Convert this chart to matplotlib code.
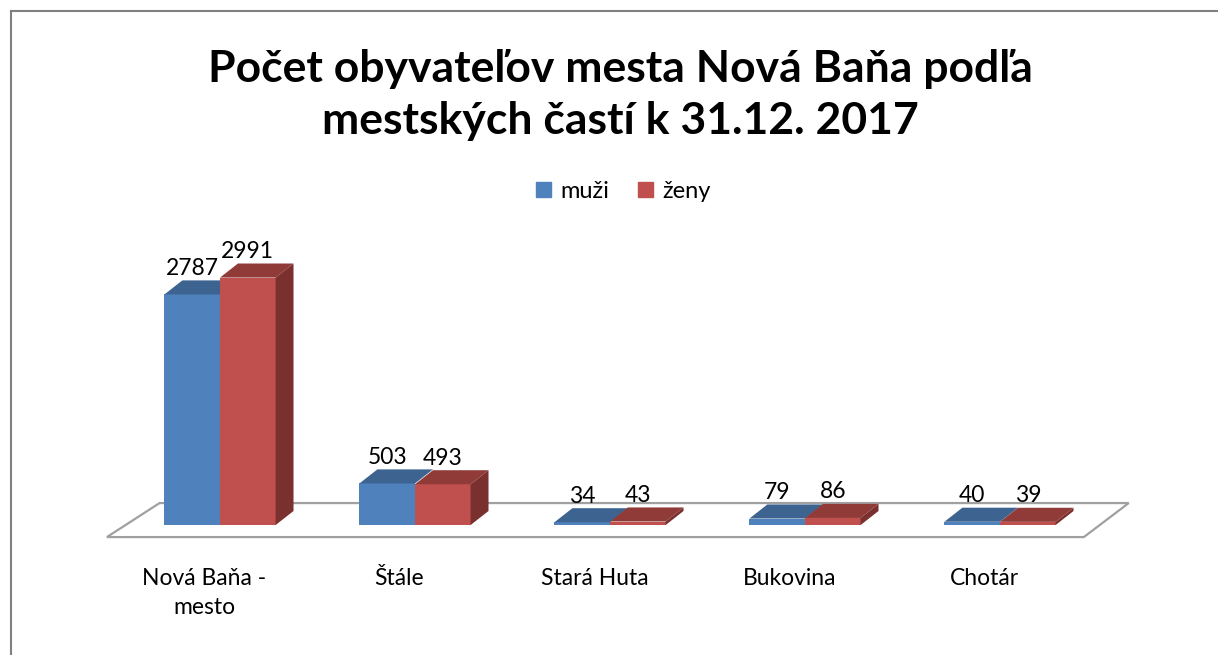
"""Počet obyvateľov mesta Nová Baňa podľa mestských častí — Excel-style 3D clustered bars."""
import matplotlib
matplotlib.use("Agg")
import matplotlib.pyplot as plt
from matplotlib.patches import Polygon
from matplotlib.lines import Line2D
import numpy as np

plt.rcParams["font.family"] = ["Lato", "DejaVu Sans"]

categories = ["Nová Baňa -\nmesto", "Štále", "Stará Huta", "Bukovina", "Chotár"]
muzi = [2787, 503, 34, 79, 40]
zeny = [2991, 493, 43, 86, 39]
series = [("muži", muzi), ("ženy", zeny)]

# colours: front, top, side
BLUE = ("#4F81BD", "#3D6490", "#2F4D70")
RED = ("#C0504D", "#913B39", "#7A302E")

W = 0.285     # bar width (category units)
DX = 0.092    # depth offset in x
DY = 170      # depth offset in value units

fig = plt.figure(figsize=(12.18, 6.55), dpi=100)
ax = fig.add_axes([103 / 1218, (655 - 583) / 655, 1014 / 1218, (583 - 252) / 655])
ax.set_xlim(-0.6, 4.6)
ax.set_ylim(-700, 3300)
ax.axis("off")

# floor
floor = Polygon([(-0.58, -145), (4.43, -145), (4.66, 266), (-0.31, 266)],
                closed=True, facecolor="white", edgecolor="#A0A0A0", lw=1.6,
                zorder=1, clip_on=False)
ax.add_patch(floor)

x = np.arange(len(categories))
for k, (name, vals) in enumerate(series):
    front, top, side = (BLUE, RED)[k]
    x0s = x - W + k * W
    ax.bar(x0s, vals, width=W, align="edge", color=front, edgecolor="none", zorder=3)
    for x0, v in zip(x0s, vals):
        x1 = x0 + W
        ax.add_patch(Polygon([(x0, v), (x1, v), (x1 + DX, v + DY), (x0 + DX, v + DY)],
                             closed=True, facecolor=top, edgecolor="none", zorder=3))
        if k == 1:
            ax.add_patch(Polygon([(x1, 0), (x1 + DX, DY), (x1 + DX, v + DY), (x1, v)],
                                 closed=True, facecolor=side, edgecolor="none", zorder=3))
        ax.text(x0 + W / 2, v + DY + 20, f"{v}", ha="center", va="bottom",
                fontsize=16.5, color="black", zorder=4)

for xi, lab in zip(x, categories):
    ax.text(xi - 0.08, -520, lab, ha="center", va="top", fontsize=16.5,
            color="black", linespacing=1.45)

fig.text(0.509, 0.855, "Počet obyvateľov mesta Nová Baňa podľa\nmestských častí k 31.12. 2017",
         ha="center", va="center", fontsize=32, fontweight="bold", linespacing=1.38)

handles = [plt.Rectangle((0, 0), 1, 1, color=BLUE[0]), plt.Rectangle((0, 0), 1, 1, color=RED[0])]
fig.legend(handles, [s[0] for s in series], loc="center", bbox_to_anchor=(0.512, 0.708),
           ncol=2, frameon=False, fontsize=17, handlelength=0.65, handleheight=0.65,
           handletextpad=0.4, columnspacing=1.2)

# chart-area border (left and top edges visible)
fig.add_artist(Line2D([10.5 / 1218, 10.5 / 1218], [0, 1 - 10.5 / 655],
                      transform=fig.transFigure, color="#808080", lw=1.5))
fig.add_artist(Line2D([10.5 / 1218, 1], [1 - 10.5 / 655, 1 - 10.5 / 655],
                      transform=fig.transFigure, color="#808080", lw=1.5))

fig.savefig("out.png", dpi=100)
